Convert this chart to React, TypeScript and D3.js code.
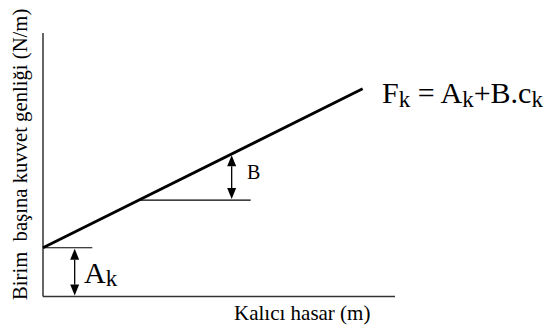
import React from "react";
import * as d3 from "d3";

// Permanent damage (c) vs. force per unit length (F) – schematic linear model
const lineC = [0, 9.08];
const lineF = [1.85, 7.88];

// Intercept annotation A_k
const akC = [0, 1.4];
const akArrowC = 0.9;
const akValue = 1.85;

// Slope annotation B
const bBaseC = [2.73, 5.9];
const bBaseF = 3.66;
const bArrowC = 5.36;
const bTopF = 5.4;

const W = 553;
const H = 328;

const x = d3.scaleLinear().domain([0, 10]).range([43, 395]);
const y = d3.scaleLinear().domain([0, 10]).range([296.5, 33]);

const serif = "'Liberation Serif', 'Times New Roman', serif";

function Arrow({ cx, y1, y2 }: { cx: number; y1: number; y2: number }) {
  const hw = 4.5;
  const hl = 11;
  return (
    <g>
      <line x1={cx} x2={cx} y1={y1 + hl} y2={y2 - hl} stroke="#000" strokeWidth={1.3} />
      <path d={`M${cx},${y1} L${cx - hw},${y1 + hl} L${cx + hw},${y1 + hl} Z`} fill="#000" />
      <path d={`M${cx},${y2} L${cx - hw},${y2 - hl} L${cx + hw},${y2 - hl} Z`} fill="#000" />
    </g>
  );
}

export default function App() {
  const mainLine = d3
    .line<number>()
    .x((_, i) => x(lineC[i]))
    .y((d) => y(d))(lineF);

  return (
    <svg width={W} height={H} style={{ position: "absolute", left: 0, top: 0, background: "#fff" }}>
      {/* axes */}
      <line x1={x(0)} x2={x(0)} y1={y(10)} y2={y(0)} stroke="#333" strokeWidth={1.5} />
      <line x1={x(0)} x2={x(10)} y1={y(0)} y2={y(0)} stroke="#333" strokeWidth={1.5} />

      {/* linear relation */}
      <path d={mainLine || ""} fill="none" stroke="#000" strokeWidth={2.8} />

      {/* intercept */}
      <line x1={x(akC[0])} x2={x(akC[1])} y1={y(akValue)} y2={y(akValue)} stroke="#000" strokeWidth={1.2} />
      <Arrow cx={x(akArrowC)} y1={y(akValue) + 1} y2={y(0) - 1} />
      <text x={84} y={283} fontFamily={serif} fontSize={30} fill="#000">
        A<tspan fontSize={23} dy={3}>k</tspan>
      </text>

      {/* slope */}
      <line x1={x(bBaseC[0])} x2={x(bBaseC[1])} y1={y(bBaseF)} y2={y(bBaseF)} stroke="#000" strokeWidth={1.2} />
      <Arrow cx={x(bArrowC)} y1={y(bTopF) + 1} y2={y(bBaseF) - 1} />
      <text x={247} y={179} fontFamily={serif} fontSize={20} fill="#000">B</text>

      {/* equation */}
      <text
        x={382}
        y={103}
        fontFamily={serif}
        fontSize={30}
        fill="#000"
        style={{ whiteSpace: "pre" }}
      >
        F<tspan fontSize={23} dy={4}>k</tspan>
        <tspan dy={-4}>{" = A"}</tspan>
        <tspan fontSize={23} dy={4}>k</tspan>
        <tspan dy={-4}>+B.c</tspan>
        <tspan fontSize={23} dy={4}>k</tspan>
      </text>

      {/* axis titles */}
      <text x={234} y={320} fontFamily={serif} fontSize={21} fill="#000">Kalıcı hasar (m)</text>
      <text
        transform="translate(27,300) rotate(-90)"
        x={0}
        y={0}
        fontFamily={serif}
        fontSize={20.7}
        fill="#000"
        style={{ whiteSpace: "pre" }}
      >
        {"Birim  başına kuvvet genliği (N/m)"}
      </text>
    </svg>
  );
}
